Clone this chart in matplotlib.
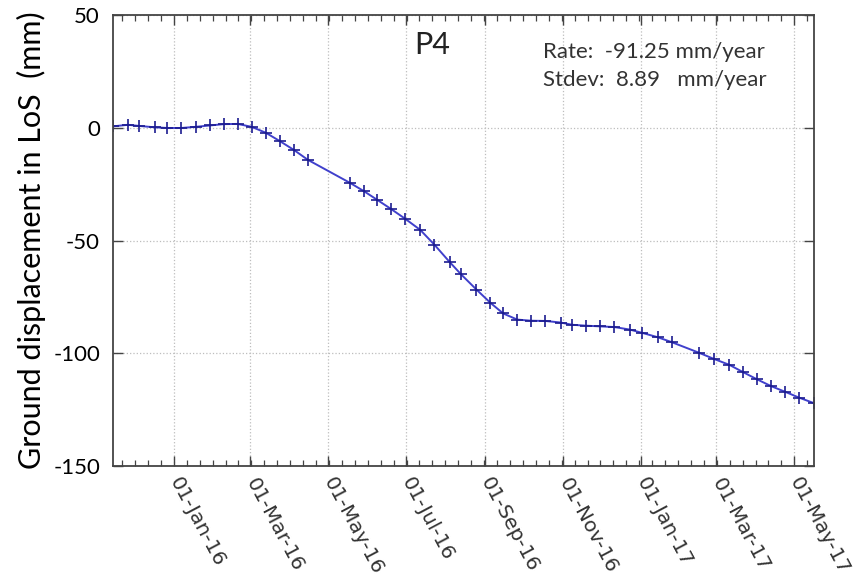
import numpy as np
import pandas as pd
import matplotlib
matplotlib.use("Agg")
import matplotlib.pyplot as plt
import matplotlib.dates as mdates
from matplotlib.ticker import FixedLocator

# acquisition dates and LoS displacement (mm)
dates = ["2015-11-14", "2015-11-26", "2015-12-05", "2015-12-17", "2015-12-27",
         "2016-01-07", "2016-01-18", "2016-01-29", "2016-02-09", "2016-02-20",
         "2016-03-02", "2016-03-13", "2016-03-24", "2016-04-04", "2016-04-15",
         "2016-05-18", "2016-05-29", "2016-06-08", "2016-06-19", "2016-06-30",
         "2016-07-12", "2016-07-23", "2016-08-04", "2016-08-13", "2016-08-25",
         "2016-09-05", "2016-09-15", "2016-09-26", "2016-10-07", "2016-10-18",
         "2016-10-30", "2016-11-08", "2016-11-19", "2016-11-30", "2016-12-11",
         "2016-12-23", "2017-01-02", "2017-01-14", "2017-01-25", "2017-02-15",
         "2017-02-27", "2017-03-11", "2017-03-22", "2017-04-02", "2017-04-13",
         "2017-04-24", "2017-05-05", "2017-05-16"]
disp = [0.5, 1.2, 0.7, 0.1, -0.2,
        -0.2, 0.3, 0.9, 1.5, 1.6,
        0.3, -2.3, -6.0, -9.9, -14.3,
        -24.5, -28.2, -31.9, -36.0, -40.3,
        -45.3, -51.8, -59.5, -65.0, -71.7,
        -77.6, -82.3, -85.0, -85.5, -85.6,
        -86.3, -87.3, -87.7, -88.0, -88.3,
        -89.4, -90.9, -92.8, -95.0, -99.6,
        -102.4, -105.0, -108.3, -111.5, -114.5,
        -117.0, -119.6, -121.9]

tick_dates = ["2016-01-01", "2016-03-01", "2016-05-01", "2016-07-01", "2016-09-01",
              "2016-11-01", "2017-01-01", "2017-03-01", "2017-05-01"]
yticks = [50, 0, -50, -100, -150]

point_name = "P4"
rate_txt = "Rate:  -91.25 mm/year"
stdev_txt = "Stdev:  8.89   mm/year"

t = pd.to_datetime(dates)
tk = pd.to_datetime(tick_dates)

plt.rcParams['font.family'] = ['Lato', 'DejaVu Sans']
plt.rcParams['axes.unicode_minus'] = False

fig = plt.figure(figsize=(8.67, 5.82), dpi=100)
ax = fig.add_axes([0.1298, 0.1985, 0.8085, 0.7765])

ax.plot(t, disp, '-', color='#4040cc', lw=1.4, marker='+', ms=9,
        mec='#1c1c90', mew=1.2)

ax.set_xlim(t[0], t[-1])
ax.set_ylim(-150, 50)

# major ticks at the labelled dates, minor ticks 6 per interval
tnum = mdates.date2num(tk)
step = np.diff(tnum).mean() / 6
lo, hi = mdates.date2num(t[0]), mdates.date2num(t[-1])
minors = np.arange(tnum[0] - 6 * step, hi, step)
minors = minors[(minors >= lo) & (minors <= hi)]
ax.xaxis.set_major_locator(FixedLocator(tnum))
ax.xaxis.set_minor_locator(FixedLocator(minors))
ax.xaxis.set_major_formatter(mdates.DateFormatter('%d-%b-%y'))
ax.set_yticks(yticks)

ax.tick_params(which='both', direction='in', top=True, right=True,
               color='#444444')
ax.tick_params(which='major', length=7, width=1.0)
ax.tick_params(which='minor', length=4, width=0.9)
ax.tick_params(axis='y', labelsize=16, pad=9)
ax.tick_params(axis='x', labelsize=14.5, pad=9)
for lab in ax.get_xticklabels():
    lab.set_family('DejaVu Sans')
    lab.set_color('#333333')
    lab.set_rotation(-62)
    lab.set_ha('left')
    lab.set_va('center')
    lab.set_rotation_mode('anchor')

for s in ax.spines.values():
    s.set_color('#444444')
    s.set_linewidth(1.3)

ax.grid(True, which='major', ls=':', color='#bdbdbd', lw=0.9)

ax.set_ylabel("Ground displacement in LoS  (mm)", fontsize=22, labelpad=5)

ax.text(0.456, 0.932, point_name, transform=ax.transAxes, fontsize=22,
        ha='center', va='center', color='#222222')
ax.text(0.614, 0.917, rate_txt, transform=ax.transAxes, fontsize=16,
        ha='left', va='center', color='#333333')
ax.text(0.614, 0.855, stdev_txt, transform=ax.transAxes, fontsize=16,
        ha='left', va='center', color='#333333')

fig.savefig('out.png', dpi=100)
